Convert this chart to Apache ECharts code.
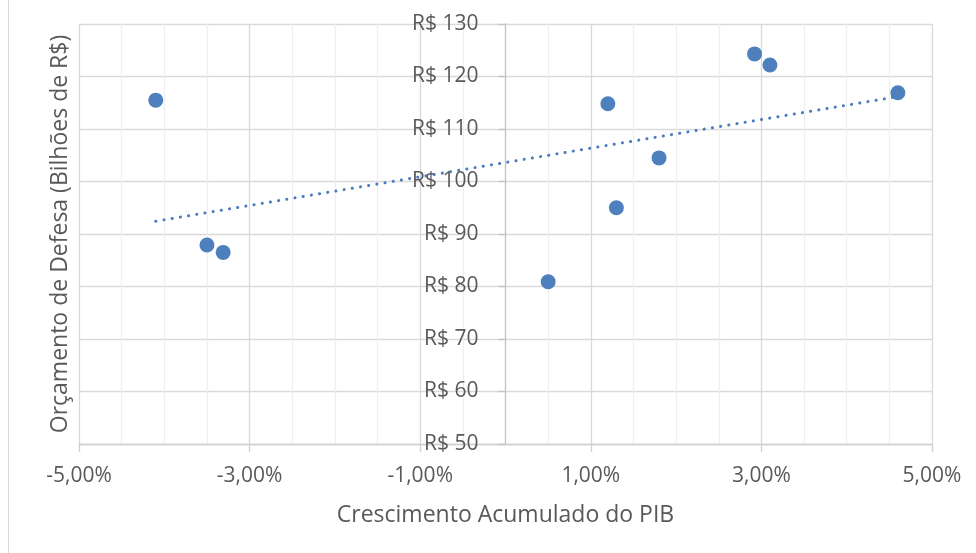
<!DOCTYPE html>
<html>
<head>
<meta charset="utf-8">
<script src="https://cdn.jsdelivr.net/npm/echarts@6/dist/echarts.min.js"></script>
<style>
  html, body { margin: 0; padding: 0; background: #fff; }
  #chart { width: 976px; height: 553px; }
</style>
</head>
<body>
<div id="chart"></div>
<script>
// Crescimento acumulado do PIB (%) x orçamento de defesa (bilhões de R$)
const growthPct = [-4.10, -3.50, -3.31, 0.50, 1.20, 1.30, 1.80, 2.92, 3.10, 4.60];
const budget = [115.5, 87.9, 86.5, 80.9, 114.8, 95.0, 104.5, 124.3, 122.2, 116.9];

const xTicks = { min: -5, max: 5, step: 2 };
const yTicks = { min: 50, max: 130, step: 10 };

// Least-squares linear trend over the same points
function linearTrend(xs, ys) {
  const n = xs.length;
  const mx = xs.reduce((a, b) => a + b, 0) / n;
  const my = ys.reduce((a, b) => a + b, 0) / n;
  let sxy = 0, sxx = 0;
  for (let i = 0; i < n; i++) {
    sxy += (xs[i] - mx) * (ys[i] - my);
    sxx += (xs[i] - mx) * (xs[i] - mx);
  }
  const slope = sxy / sxx;
  const x0 = Math.min(...xs), x1 = Math.max(...xs);
  return [[x0, my + slope * (x0 - mx)], [x1, my + slope * (x1 - mx)]];
}

const points = growthPct.map((x, i) => [x, budget[i]]);
const trend = linearTrend(growthPct, budget);

const FONT = 'Open Sans';
const TEXT = '#595959';

const W = 976;
const grid = { left: 79, right: 44, top: 24, bottom: 109 };
// The value axis crosses the horizontal axis at x = 0
const plotWidth = W - grid.left - grid.right;
const zeroShift = plotWidth * (0 - xTicks.min) / (xTicks.max - xTicks.min);

const chart = echarts.init(document.getElementById('chart'), null, { renderer: 'canvas' });
chart.setOption({
  animation: false,
  backgroundColor: '#ffffff',
  grid: Object.assign({ containLabel: false }, grid),
  graphic: [{
    type: 'rect',
    shape: { x: 8, y: 0, width: 1, height: 553 },
    style: { fill: '#d9d9d9' },
    silent: true
  }],
  xAxis: {
    type: 'value',
    min: xTicks.min, max: xTicks.max, interval: xTicks.step,
    name: 'Crescimento Acumulado do PIB',
    nameLocation: 'middle',
    nameGap: 60,
    nameTextStyle: { fontFamily: FONT, fontSize: 23, color: TEXT },
    axisLine: { onZero: false, lineStyle: { color: '#d0d0d0', width: 1.3 } },
    axisTick: { show: true, length: 8, lineStyle: { color: '#d0d0d0', width: 1.3 } },
    axisLabel: {
      fontFamily: FONT, fontSize: 21, color: TEXT, margin: 22,
      formatter: v => v.toFixed(2).replace('.', ',') + '%'
    },
    splitLine: { show: true, lineStyle: { color: '#d9d9d9', width: 1.3 } },
    minorTick: { show: false, splitNumber: 4 },
    minorSplitLine: { show: true, lineStyle: { color: '#efefef', width: 1.3 } }
  },
  yAxis: [{
    type: 'value',
    position: 'left',
    offset: -zeroShift,
    min: yTicks.min, max: yTicks.max, interval: yTicks.step,
    axisLine: { show: true, onZero: false, lineStyle: { color: '#c4c4c4', width: 1.3 } },
    axisTick: { show: true, length: 7, lineStyle: { color: '#c4c4c4', width: 1.3 } },
    axisLabel: {
      fontFamily: FONT, fontSize: 21, color: TEXT, margin: 27,
      formatter: v => 'R$ ' + v
    },
    splitLine: { show: true, lineStyle: { color: '#d9d9d9', width: 1.3 } }
  }, {
    type: 'value',
    position: 'left',
    min: yTicks.min, max: yTicks.max,
    name: 'Orçamento de Defesa (Bilhões de R$)',
    nameLocation: 'middle',
    nameGap: 7,
    nameTextStyle: { fontFamily: FONT, fontSize: 23, color: TEXT },
    axisLine: { show: false },
    axisTick: { show: false },
    axisLabel: { show: false },
    splitLine: { show: false }
  }],
  series: [{
    type: 'line',
    data: trend,
    symbol: 'none',
    silent: true,
    z: 2,
    lineStyle: { color: '#4a7bc0', width: 3, type: [0.1, 8.2], cap: 'round' }
  }, {
    type: 'scatter',
    data: points,
    symbol: 'circle',
    symbolSize: 15,
    z: 3,
    itemStyle: { color: '#4e80be', opacity: 1 }
  }]
});
</script>
</body>
</html>
